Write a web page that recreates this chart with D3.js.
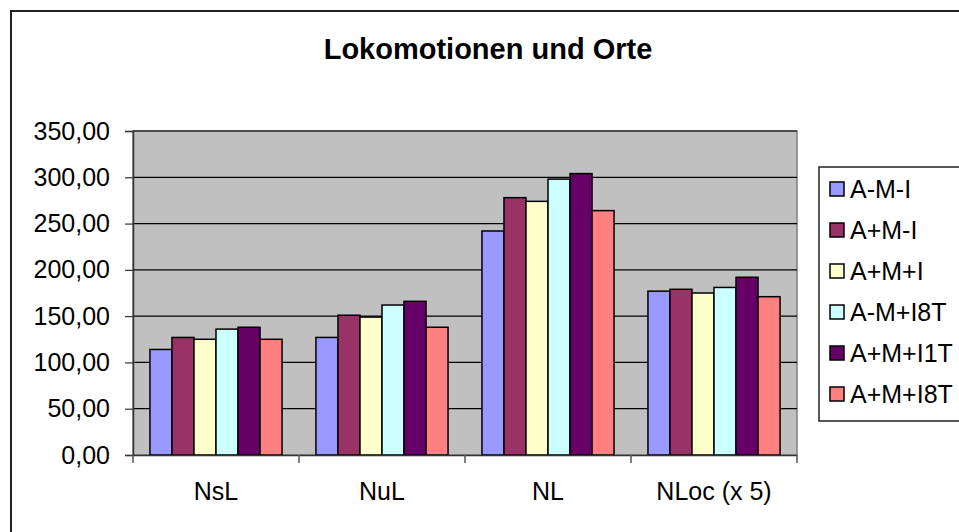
<!DOCTYPE html>
<html>
<head>
<meta charset="utf-8">
<script src="https://cdn.jsdelivr.net/npm/d3@7"></script>
<style>
  body { margin: 0; background: #fff; }
  text { font-family: "Liberation Sans", Arial, sans-serif; }
</style>
</head>
<body>
<div id="chart"></div>
<script>
var categories = ['NsL', 'NuL', 'NL', 'NLoc (x 5)'];
var seriesNames = ['A-M-I', 'A+M-I', 'A+M+I', 'A-M+I8T', 'A+M+I1T', 'A+M+I8T'];
var seriesColors = ['#9999ff', '#993366', '#ffffcc', '#ccffff', '#660066', '#ff8080'];
// one array per series, one value per category
var seriesValues = [
    [114, 127, 242, 177],
    [127, 151, 278, 179],
    [125, 149, 274, 175],
    [136, 162, 298, 181],
    [138, 166, 304, 192],
    [125, 138, 264, 171]
];
var yTicks = [0, 50, 100, 150, 200, 250, 300, 350];

var width = 959, height = 532;
var plot = { left: 133, right: 797, top: 131, bottom: 455 };

var de = d3.formatLocale({ decimal: ',', thousands: '.', grouping: [3], currency: ['', ' €'] });
var fmt = de.format('.2f');

var svg = d3.select('#chart').append('svg')
    .attr('width', width)
    .attr('height', height);

// chart area border (right and bottom fall outside the picture)
svg.append('rect')
    .attr('x', 11).attr('y', 11)
    .attr('width', 980).attr('height', 560)
    .attr('fill', '#fff')
    .attr('stroke', '#222')
    .attr('stroke-width', 2);

svg.append('text')
    .attr('x', 488).attr('y', 59)
    .attr('text-anchor', 'middle')
    .attr('font-size', 29)
    .attr('font-weight', 'bold')
    .text('Lokomotionen und Orte');

var x0 = d3.scaleBand().domain(categories).range([plot.left, plot.right]);
var x1 = d3.scaleBand().domain(d3.range(seriesNames.length))
    .range([0, x0.bandwidth()])
    .paddingOuter(0.77);
var y = d3.scaleLinear().domain([0, 350]).range([plot.bottom, plot.top]);

// plot area
svg.append('rect')
    .attr('x', plot.left).attr('y', plot.top)
    .attr('width', plot.right - plot.left)
    .attr('height', plot.bottom - plot.top)
    .attr('fill', '#c0c0c0')
    .attr('stroke', '#808080')
    .attr('stroke-width', 1.5);

// gridlines
svg.append('g').selectAll('line')
    .data(yTicks.slice(1))
    .enter().append('line')
    .attr('x1', plot.left).attr('x2', plot.right)
    .attr('y1', d => y(d)).attr('y2', d => y(d))
    .attr('stroke', '#000')
    .attr('stroke-width', 1.2);

// bars
var groups = svg.append('g').selectAll('g')
    .data(categories)
    .enter().append('g')
    .attr('transform', d => 'translate(' + x0(d) + ',0)');

groups.selectAll('rect')
    .data((c, ci) => seriesValues.map((vals, si) => ({ s: si, v: vals[ci] })))
    .enter().append('rect')
    .attr('x', d => x1(d.s))
    .attr('width', x1.bandwidth())
    .attr('y', d => y(d.v))
    .attr('height', d => y(0) - y(d.v))
    .attr('fill', d => seriesColors[d.s])
    .attr('stroke', '#000')
    .attr('stroke-width', 1.5);

// y axis
var yAxis = d3.axisLeft(y).tickValues(yTicks).tickSize(8).tickPadding(15).tickFormat(fmt);
svg.append('g')
    .attr('transform', 'translate(' + plot.left + ',0)')
    .call(yAxis)
    .call(g => g.select('.domain').attr('stroke', '#333').attr('stroke-width', 1.5))
    .call(g => g.selectAll('.tick line').attr('stroke', '#333').attr('stroke-width', 1.2))
    .call(g => g.selectAll('text').attr('font-size', 25).attr('fill', '#000')
        .attr('font-family', '"Liberation Sans", Arial, sans-serif'));

// x axis
var xAxis = d3.axisBottom(x0).tickSize(0).tickPadding(27);
var xg = svg.append('g')
    .attr('transform', 'translate(0,' + plot.bottom + ')')
    .call(xAxis)
    .call(g => g.select('.domain').attr('stroke', '#333').attr('stroke-width', 1.5))
    .call(g => g.selectAll('text').attr('font-size', 25).attr('fill', '#000')
        .attr('font-family', '"Liberation Sans", Arial, sans-serif'));

// category separator ticks
xg.append('g').selectAll('line')
    .data(categories.map(c => x0(c)).concat([plot.right]))
    .enter().append('line')
    .attr('x1', d => d).attr('x2', d => d)
    .attr('y1', 0).attr('y2', 8)
    .attr('stroke', '#555')
    .attr('stroke-width', 1.5);

// legend
var legend = svg.append('g');
legend.append('rect')
    .attr('x', 819).attr('y', 167)
    .attr('width', 200).attr('height', 254)
    .attr('fill', '#fff')
    .attr('stroke', '#222')
    .attr('stroke-width', 1.5);

var items = legend.selectAll('g.item')
    .data(seriesNames)
    .enter().append('g')
    .attr('class', 'item')
    .attr('transform', (d, i) => 'translate(0,' + (189 + i * 41) + ')');

items.append('rect')
    .attr('x', 830).attr('y', -7)
    .attr('width', 14).attr('height', 14)
    .attr('fill', (d, i) => seriesColors[i])
    .attr('stroke', '#000')
    .attr('stroke-width', 1.5);

items.append('text')
    .attr('x', 850).attr('y', 9)
    .attr('font-size', 25)
    .text(d => d);
</script>
</body>
</html>
